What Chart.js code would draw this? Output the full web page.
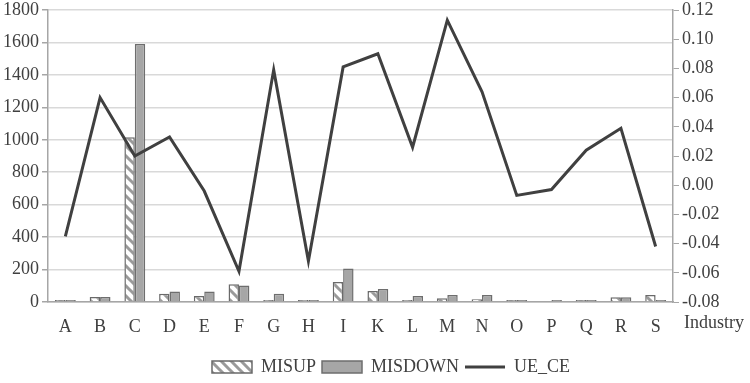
<!DOCTYPE html>
<html>
<head>
<meta charset="utf-8">
<script src="https://cdn.jsdelivr.net/npm/chart.js@4"></script>
<style>
  html, body { margin: 0; padding: 0; background: #fff; }
  #wrap { width: 750px; height: 383px; }
</style>
</head>
<body>
<div id="wrap"><canvas id="industryChart"></canvas></div>
<script>
var industries = ['A','B','C','D','E','F','G','H','I','K','L','M','N','O','P','Q','R','S'];
var misUp   = [10, 31, 1015, 51, 37, 109, 10, 3, 124, 68, 12, 23, 17, 3, null, 3, 29, 43];
var misDown = [12, 31, 1590, 64, 64, 101, 51, 3, 206, 80, 37, 43, 43, 3, 3, 3, 29, 8];
var ueCe    = [-0.035, 0.060, 0.020, 0.033, -0.004, -0.059, 0.079, -0.052, 0.081, 0.090, 0.026, 0.113, 0.064, -0.007, -0.003, 0.024, 0.039, -0.042];

var textColor = '#404040';
var serif = "'Liberation Serif', 'DejaVu Serif', serif";
var fontSize = 18;

// hatch pattern for MISUP
function makeHatch() {
  var c = document.createElement('canvas');
  c.width = 10; c.height = 10;
  var g = c.getContext('2d');
  g.fillStyle = '#ffffff';
  g.fillRect(0, 0, 10, 10);
  g.strokeStyle = '#9a9a9a';
  g.lineWidth = 3;
  g.beginPath();
  g.moveTo(-2, -2); g.lineTo(12, 12);
  g.moveTo(-2, 8); g.lineTo(2, 12);
  g.moveTo(8, -2); g.lineTo(12, 2);
  g.stroke();
  return g.createPattern(c, 'repeat');
}
var hatch = makeHatch();

// draws the "Industry" label right of the last category
var industryLabel = {
  id: 'industryLabel',
  afterLayout: function(chart) {
    // nudge the legend a bit right/down like the original
    var lg = chart.legend;
    if (lg) {
      lg.left += 16; lg.right += 16;
      lg.top += 3; lg.bottom += 3;
    }
  },
  afterDraw: function(chart) {
    var ctx = chart.ctx;
    var x = chart.scales.x;
    ctx.save();
    ctx.font = fontSize + 'px ' + serif;
    ctx.fillStyle = textColor;
    ctx.textBaseline = 'middle';
    ctx.textAlign = 'left';
    ctx.fillText('Industry', 684, x.top + 21);
    ctx.restore();
  }
};

function fitY(width) {
  return function(scale) {
    scale.width = width;
    scale.paddingTop = 10;
  };
}

var ctx = document.getElementById('industryChart').getContext('2d');

var myChart = new Chart(ctx, {
  type: 'bar',
  data: {
    labels: industries,
    datasets: [
      {
        label: 'MISUP',
        data: misUp,
        backgroundColor: hatch,
        borderColor: '#6a6a6a',
        borderWidth: 1.5,
        minBarLength: 2,
        yAxisID: 'y',
        categoryPercentage: 0.6,
        barPercentage: 1.0
      },
      {
        label: 'MISDOWN',
        data: misDown,
        backgroundColor: '#a6a6a6',
        borderColor: '#6e6e6e',
        borderWidth: 1.5,
        minBarLength: 2,
        yAxisID: 'y',
        categoryPercentage: 0.6,
        barPercentage: 1.0
      },
      {
        type: 'line',
        label: 'UE_CE',
        data: ueCe,
        borderColor: '#404040',
        backgroundColor: '#404040',
        borderWidth: 3,
        pointRadius: 0,
        tension: 0,
        fill: false,
        yAxisID: 'y1',
        order: -1
      }
    ]
  },
  options: {
    responsive: true,
    maintainAspectRatio: false,
    animation: false,
    layout: { padding: { top: 0, right: 0, left: 0, bottom: 0 } },
    plugins: {
      tooltip: { enabled: false },
      legend: {
        display: true,
        position: 'bottom',
        labels: {
          usePointStyle: true,
          pointStyleWidth: 40,
          boxHeight: 12,
          padding: 6,
          color: textColor,
          font: { family: serif, size: fontSize },
          sort: function(a, b) { return a.datasetIndex - b.datasetIndex; },
          generateLabels: function(chart) {
            var items = Chart.defaults.plugins.legend.labels.generateLabels(chart);
            items.forEach(function(it) {
              if (it.datasetIndex === 2) {
                it.pointStyle = 'line';
                it.lineWidth = 3;
                it.strokeStyle = '#404040';
              } else {
                it.pointStyle = 'rect';
                it.lineWidth = 1.5;
              }
            });
            return items;
          }
        }
      }
    },
    scales: {
      x: {
        grid: { display: false },
        border: { display: true, color: '#a6a6a6', width: 1.5 },
        ticks: { color: textColor, font: { family: serif, size: fontSize }, padding: 6 },
        afterFit: function(scale) { scale.height = 47; }
      },
      y: {
        position: 'left',
        min: 0,
        max: 1800,
        ticks: {
          stepSize: 200,
          color: textColor,
          font: { family: serif, size: fontSize },
          padding: 3,
          callback: function(v) { return String(v); }
        },
        grid: { color: '#d9d9d9', lineWidth: 1.5, tickColor: '#a6a6a6', tickLength: 6 },
        border: { display: true, color: '#a6a6a6', width: 1.5 },
        afterFit: fitY(48)
      },
      y1: {
        position: 'right',
        min: -0.08,
        max: 0.12,
        ticks: {
          stepSize: 0.02,
          color: textColor,
          font: { family: serif, size: fontSize },
          padding: 3,
          callback: function(v) { return v.toFixed(2); }
        },
        grid: { drawOnChartArea: false, tickColor: '#a6a6a6', tickLength: 6 },
        border: { display: true, color: '#a6a6a6', width: 1.5 },
        afterFit: fitY(77)
      }
    }
  },
  plugins: [industryLabel]
});
</script>
</body>
</html>
